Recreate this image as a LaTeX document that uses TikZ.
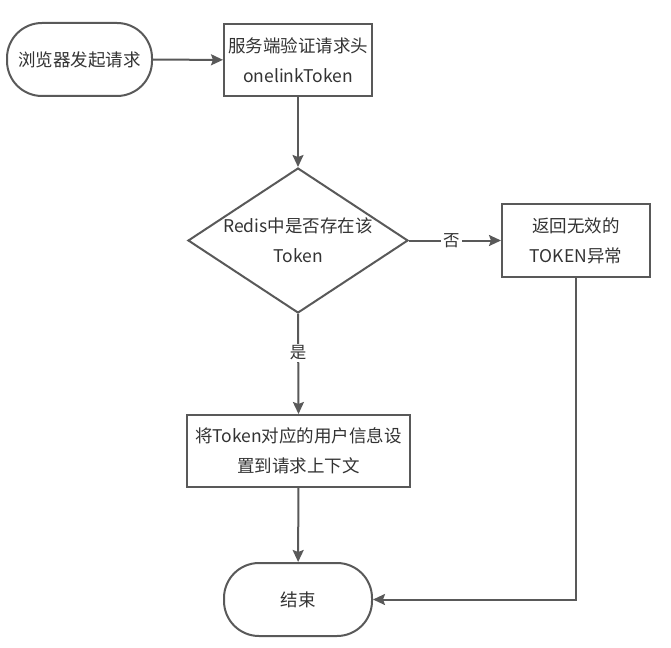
\documentclass[tikz,border=0pt]{standalone}
\usepackage{fontspec}
\newfontfamily\cjk{Noto Sans CJK SC}
\usetikzlibrary{shapes.geometric,arrows.meta}
\definecolor{ln}{HTML}{595959}
\definecolor{tx}{HTML}{333333}
\begin{document}
\begin{tikzpicture}[x=1pt,y=-1pt,
 every node/.style={font=\cjk\fontsize{17.5}{30}\selectfont, text=tx},
 box/.style={draw=ln, line width=2pt, fill=white, align=center, inner sep=0pt},
 term/.style={box, rounded corners=35pt},
 arr/.style={draw=ln, line width=2pt, -{Stealth[length=12pt,width=11pt,inset=2pt]}},
 lab/.style={fill=white, inner sep=2pt, font=\cjk\fontsize{16.5}{16.5}\selectfont}]
\useasboundingbox (0,0) rectangle (671,647);
\node[term, minimum width=145pt, minimum height=73pt] (start) at (79.5,59.5) {浏览器发起请求};
\node[box, minimum width=148pt, minimum height=72pt] (auth) at (298,60) {服务端验证请求头\\onelinkToken};
\node[draw=ln, line width=2pt, diamond, aspect=1.517, minimum width=220pt, minimum height=145pt, inner sep=0pt] (dec) at (298,240.5) {};
\node[align=center] (dect) at (dec.center) {Redis中是否存在该\\Token};
\node[box, minimum width=148pt, minimum height=73pt] (err) at (576,240.5) {返回无效的\\TOKEN异常};
\node[box, minimum width=223pt, minimum height=72pt] (set) at (298.5,451) {将Token对应的用户信息设\\置到请求上下文};
\node[term, minimum width=148pt, minimum height=73pt] (end) at (298,599.5) {结束};
\draw[arr] (start) -- (auth);
\draw[arr] (auth) -- (dec);
\draw[arr] (dec) -- node[lab, pos=0.46] {否} (err);
\draw[arr] (dec.south) -- node[lab, pos=0.39] {是} (set.north);
\draw[arr] (set) -- (end);
\draw[arr] (err.south) |- (end.east);
\end{tikzpicture}
\end{document}
